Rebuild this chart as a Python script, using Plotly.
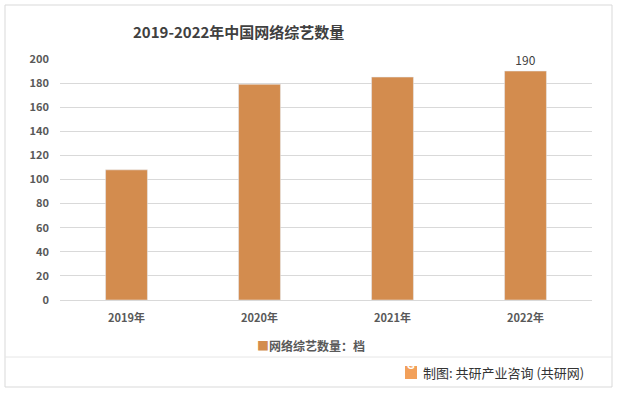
import plotly.graph_objects as go

years = ["2019年", "2020年", "2021年", "2022年"]
counts = [108, 179, 185, 190]
series_name = "网络综艺数量：档"
title_text = "2019-2022年中国网络综艺数量"
source_text = "制图: 共研产业咨询 (共研网)"

W, H = 618, 393
L, R, T, B = 60, 26, 59, 93
pw, ph = W - L - R, H - T - B

def px(x):
    return (x - L) / pw

def py(y):
    return (H - B - y) / ph

bar_color = "#D38C4E"
labels = [""] * (len(counts) - 1) + [str(counts[-1])]
tf = dict(size=11, color="#595959", family="Noto Sans CJK SC", weight="bold")

fig = go.Figure()
fig.add_trace(go.Bar(
    x=years, y=counts, name=series_name, marker_color=bar_color,
    text=labels, textposition="outside", cliponaxis=False, showlegend=False,
    textfont=dict(size=12, color="#404040", family="Noto Sans CJK SC"),
))

fig.update_layout(
    width=W, height=H,
    margin=dict(l=L, r=R, t=T, b=B, autoexpand=False),
    paper_bgcolor="white", plot_bgcolor="white",
    bargap=0.685,
    font=dict(family="Noto Sans CJK SC", color="#595959"),
    xaxis=dict(showline=True, linecolor="#D9D9D9", tickfont=tf, ticks="", ticklabelstandoff=8),
    yaxis=dict(range=[0, 200], dtick=20, gridcolor="#D9D9D9", showline=False, zeroline=False,
               tickfont=tf, ticks="", ticklabelstandoff=10),
)

# legend (drawn as text)
fig.add_annotation(text="<span style='color:%s'>■</span>%s" % (bar_color, series_name),
                   xref="paper", yref="paper", x=px(311), y=py(345), xanchor="center", yanchor="middle",
                   showarrow=False, font=dict(size=12, color="#595959", family="Noto Sans CJK SC", weight="bold"))

fig.add_annotation(text="<b>" + title_text + "</b>", xref="paper", yref="paper",
                   x=px(238), y=py(32), xanchor="center", yanchor="middle", showarrow=False,
                   font=dict(size=15, color="#404040", family="Noto Sans CJK SC"))

# outer border
fig.add_shape(type="rect", xref="paper", yref="paper", x0=px(5), x1=px(612), y0=py(387), y1=py(5),
              line=dict(color="#D9D9D9", width=1), layer="below")
# separator line
fig.add_shape(type="line", xref="paper", yref="paper", x0=px(5), x1=px(612), y0=py(357), y1=py(357),
              line=dict(color="#E6E6E6", width=1))
# logo
fig.add_shape(type="rect", xref="paper", yref="paper", x0=px(405), x1=px(417), y0=py(379), y1=py(366),
              line=dict(width=0), fillcolor="#F2A05A")
fig.add_annotation(text="<b>G</b>", xref="paper", yref="paper", x=px(411), y=py(372.5),
                   showarrow=False, font=dict(size=10, color="white", family="Arial"))
fig.add_annotation(text=source_text, xref="paper", yref="paper", x=px(421), y=py(372),
                   xanchor="left", yanchor="middle", showarrow=False,
                   font=dict(size=13, color="#333333", family="Noto Sans CJK SC"))

fig.write_html("out.html", config={"displayModeBar": False},
               post_script="document.body.style.margin='0';")
